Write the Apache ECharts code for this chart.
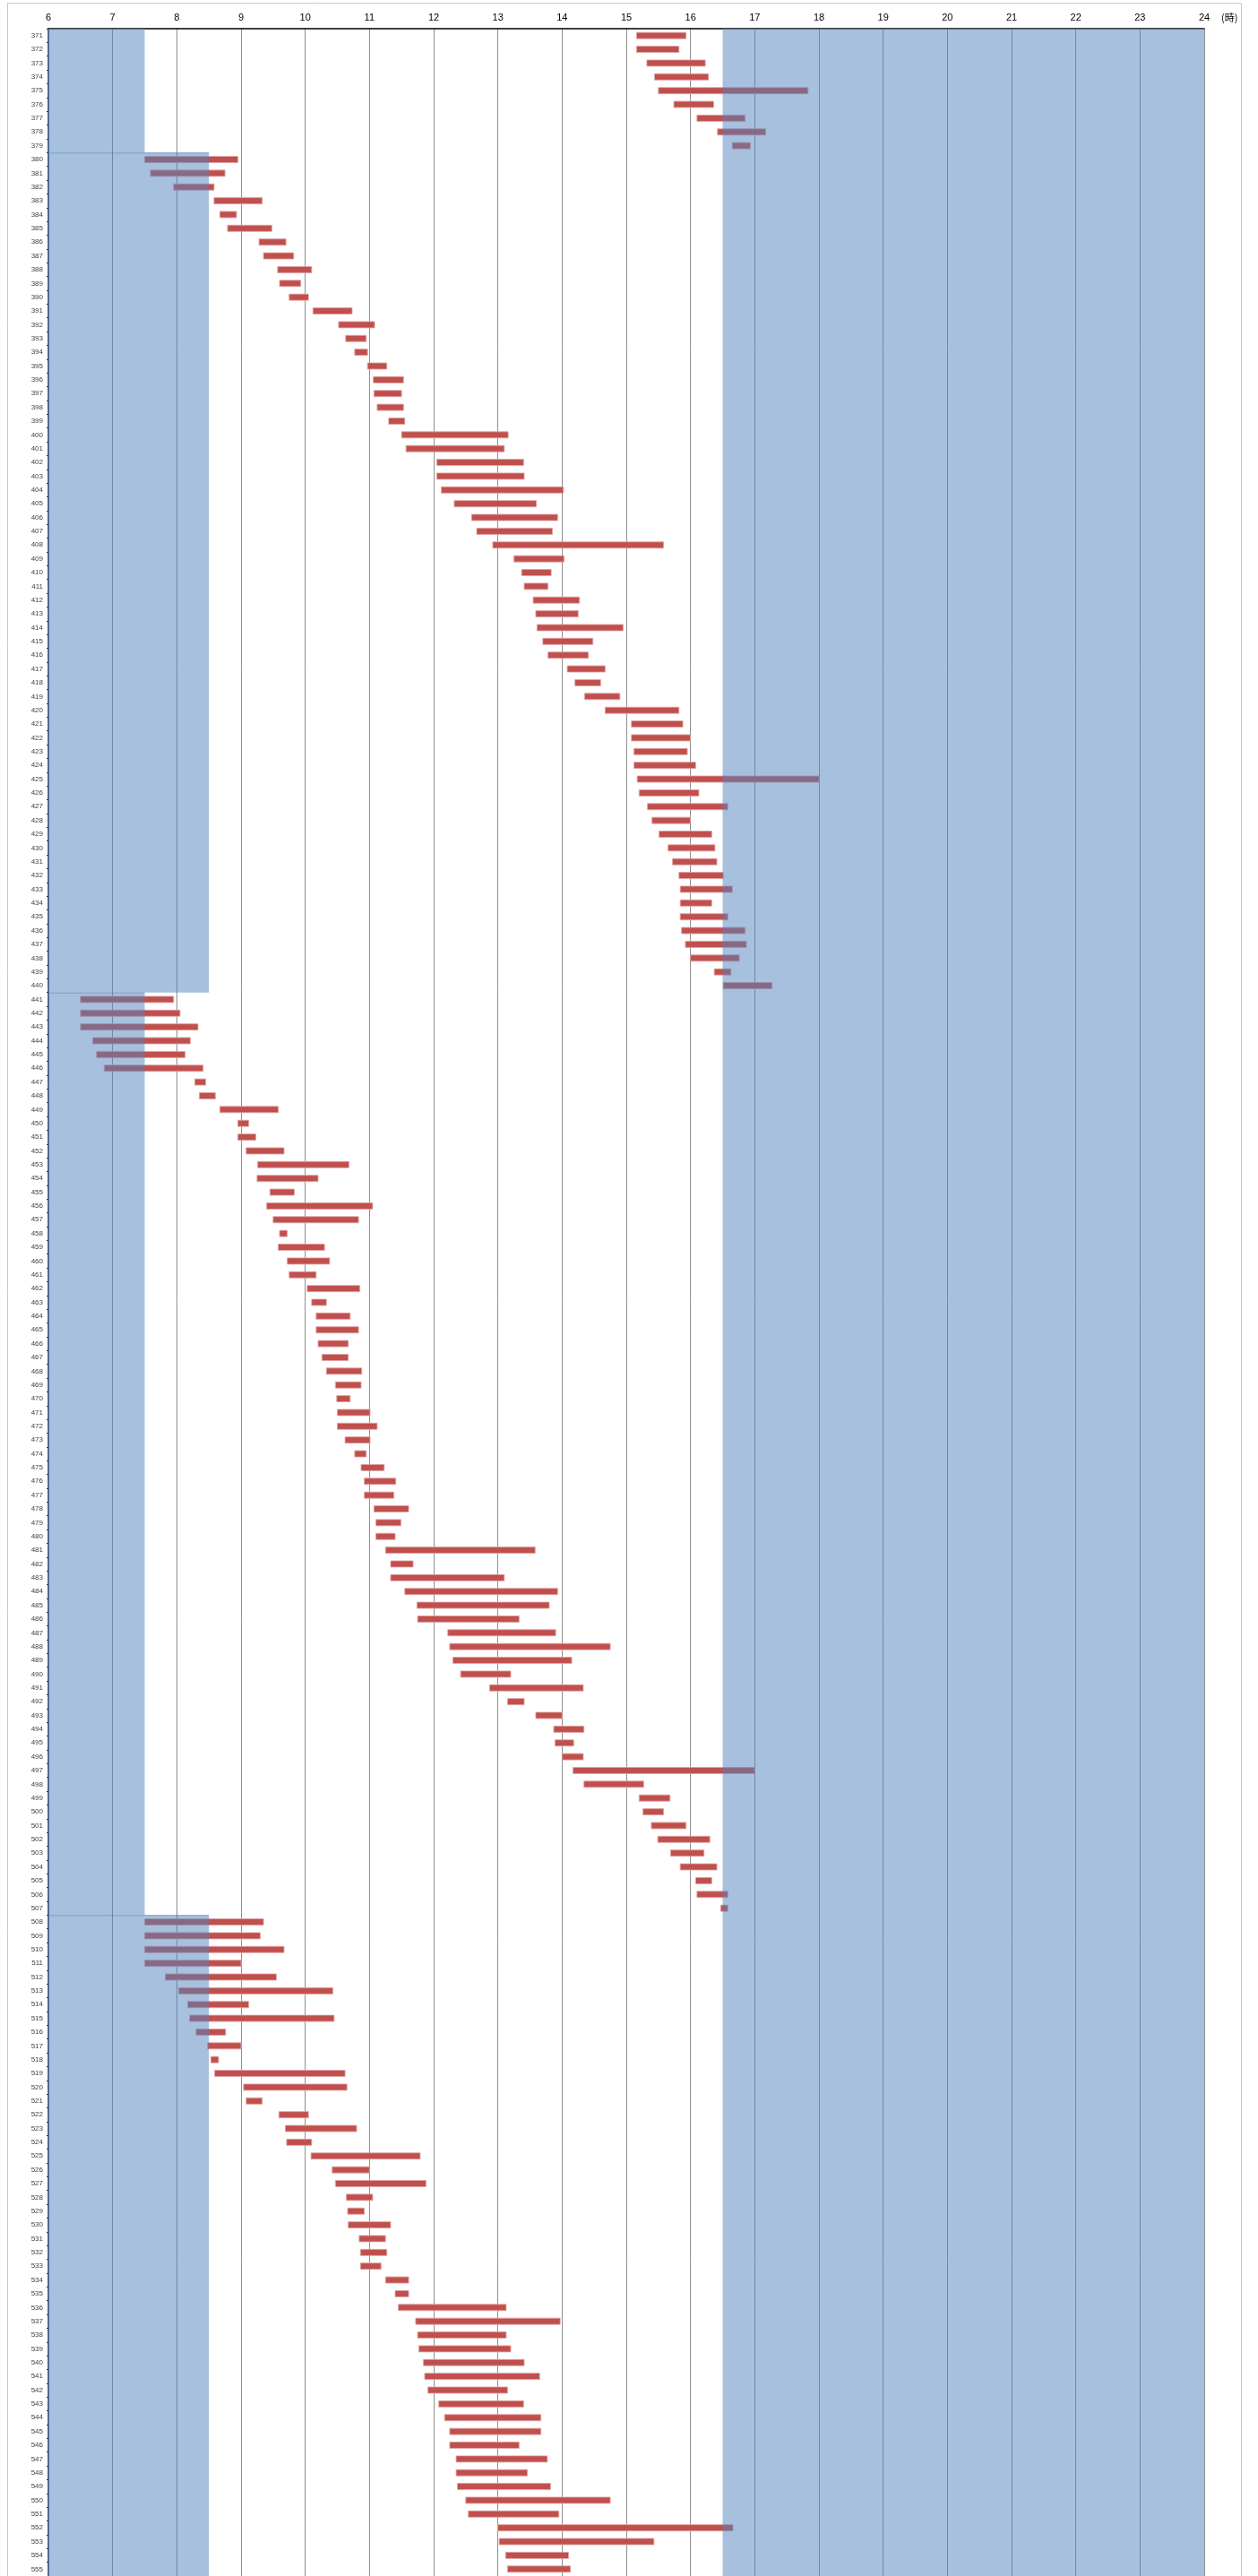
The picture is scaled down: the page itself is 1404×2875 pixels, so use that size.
<!DOCTYPE html>
<html><head><meta charset="utf-8">
<script src="https://cdn.jsdelivr.net/npm/echarts@6/dist/echarts.min.js"></script>
<style>html,body{margin:0;padding:0;background:#fff}#c{width:1404px;height:2875px}</style>
</head><body><div id="c"></div>
<script>
// Row labels (categories)
const rows = ['371','372','373','374','375','376','377','378','379','380','381','382','383','384','385','386','387','388','389','390',
'391','392','393','394','395','396','397','398','399','400','401','402','403','404','405','406','407','408','409','410',
'411','412','413','414','415','416','417','418','419','420','421','422','423','424','425','426','427','428','429','430',
'431','432','433','434','435','436','437','438','439','440','441','442','443','444','445','446','447','448','449','450',
'451','452','453','454','455','456','457','458','459','460','461','462','463','464','465','466','467','468','469','470',
'471','472','473','474','475','476','477','478','479','480','481','482','483','484','485','486','487','488','489','490',
'491','492','493','494','495','496','497','498','499','500','501','502','503','504','505','506','507','508','509','510',
'511','512','513','514','515','516','517','518','519','520','521','522','523','524','525','526','527','528','529','530',
'531','532','533','534','535','536','537','538','539','540','541','542','543','544','545','546','547','548','549','550',
'551','552','553','554','555'];

// Start hour of each bar
const startHour = [
15.16,15.16,15.32,15.44,15.50,15.74,16.10,16.42,16.65,
7.50,7.59,7.95,8.58,8.67,8.79,9.28,9.35,9.57,9.60,9.75,
10.12,10.52,10.63,10.77,10.97,11.06,11.07,11.12,11.30,11.50,
11.57,12.05,12.05,12.12,12.32,12.59,12.67,12.92,13.25,13.37,
13.41,13.55,13.59,13.61,13.70,13.78,14.08,14.20,14.35,14.67,
15.08,15.08,15.12,15.12,15.17,15.20,15.33,15.40,15.51,15.65,
15.72,15.82,15.84,15.84,15.84,15.86,15.92,16.00,16.37,16.51,
6.50,6.50,6.50,6.69,6.75,6.87,8.28,8.35,8.67,8.95,
8.95,9.08,9.26,9.25,9.45,9.40,9.50,9.60,9.58,9.72,
9.75,10.03,10.10,10.17,10.17,10.20,10.26,10.33,10.47,10.49,
10.50,10.50,10.62,10.77,10.87,10.92,10.92,11.07,11.10,11.10,
11.25,11.33,11.33,11.55,11.74,11.75,12.22,12.25,12.30,12.42,
12.87,13.15,13.59,13.87,13.89,14.00,14.17,14.34,15.20,15.26,
15.39,15.49,15.69,15.84,16.08,16.10,16.47,7.50,7.50,7.50,
7.50,7.82,8.03,8.17,8.20,8.30,8.48,8.53,8.59,9.04,
9.08,9.59,9.69,9.71,10.09,10.42,10.47,10.64,10.66,10.67,
10.84,10.86,10.86,11.25,11.40,11.45,11.72,11.75,11.77,11.84,
11.86,11.91,12.08,12.17,12.25,12.25,12.35,12.35,12.37,12.50,
12.54,13.00,13.02,13.12,13.15];

// End hour of each bar
const endHour = [
15.93,15.82,16.23,16.28,17.83,16.36,16.85,17.17,16.93,
8.95,8.75,8.58,9.33,8.93,9.48,9.70,9.82,10.10,9.93,10.05,
10.73,11.08,10.95,10.97,11.27,11.53,11.50,11.53,11.55,13.16,
13.10,13.40,13.41,14.02,13.60,13.93,13.85,15.58,14.03,13.83,
13.78,14.27,14.25,14.95,14.48,14.41,14.67,14.60,14.90,15.82,
15.88,16.00,15.95,16.08,18.00,16.13,16.58,16.00,16.33,16.38,
16.41,16.51,16.65,16.33,16.58,16.85,16.87,16.76,16.63,17.27,
7.95,8.05,8.33,8.21,8.13,8.41,8.45,8.60,9.58,9.12,
9.23,9.67,10.68,10.20,9.83,11.05,10.83,9.72,10.30,10.38,
10.17,10.85,10.33,10.70,10.83,10.67,10.67,10.88,10.87,10.70,
11.01,11.12,11.01,10.95,11.23,11.41,11.38,11.61,11.49,11.40,
13.58,11.68,13.10,13.93,13.80,13.33,13.90,14.75,14.15,13.20,
14.33,13.41,14.00,14.34,14.18,14.33,17.00,15.27,15.68,15.58,
15.93,16.30,16.21,16.41,16.33,16.58,16.58,9.35,9.30,9.67,
9.00,9.55,10.43,9.12,10.45,8.76,9.00,8.65,10.62,10.65,
9.33,10.05,10.80,10.10,11.79,11.00,11.88,11.05,10.92,11.33,
11.25,11.27,11.18,11.61,11.61,13.13,13.97,13.13,13.20,13.41,
13.65,13.15,13.40,13.67,13.67,13.33,13.77,13.46,13.82,14.75,
13.95,16.66,15.43,14.10,14.13];

// Shaded (night) blocks
const shadeFromRow = ['371','380','441','508','371'];
const shadeToRow   = ['379','440','507','555','555'];
const shadeFromHour = [6, 6, 6, 6, 16.5];
const shadeToHour   = [7.5, 8.5, 7.5, 8.5, 24];

// X tick labels
const hourTicks = [6,7,8,9,10,11,12,13,14,15,16,17,18,19,20,21,22,23,24];

const barData = rows.map((r, i) => [startHour[i], endHour[i], i]);
const shadeData = shadeFromRow.map((r, i) => [shadeFromHour[i], shadeToHour[i], rows.indexOf(r), rows.indexOf(shadeToRow[i])]);

const chart = echarts.init(document.getElementById('c'), null, {renderer: 'canvas'});
chart.setOption({
  animation: false,
  backgroundColor: '#fff',
  grid: {left: 54, width: 1290, top: 32, height: 2844, containLabel: false},
  xAxis: {
    type: 'value', position: 'top', min: 6, max: 24, interval: 1,
    axisLine: {show: true, lineStyle: {color: '#000', width: 1.5}},
    axisTick: {show: false},
    axisLabel: {color: '#000', fontSize: 11, margin: 7, fontFamily: 'Liberation Sans Narrow, Liberation Sans, sans-serif',
      formatter: v => hourTicks.indexOf(v) >= 0 ? String(v) : ''},
    splitLine: {show: true, lineStyle: {color: '#8f8f8f', width: 1}}
  },
  yAxis: {
    type: 'category', inverse: true, data: rows,
    axisLine: {show: true, lineStyle: {color: '#243f60', width: 1.5}},
    axisTick: {show: true, length: 2, lineStyle: {color: '#243f60'}},
    axisLabel: {color: '#404040', fontSize: 8, margin: 6, fontFamily: 'Liberation Sans Narrow, Liberation Sans, sans-serif'},
    splitLine: {show: false}
  },
  graphic: [
    {type: 'rect', shape: {x: 8.5, y: 3.5, width: 1377, height: 2885}, style: {fill: 'none', stroke: '#c8c8c8', lineWidth: 1}, silent: true, z: -1},
    {type: 'text', x: 1363, y: 14, style: {text: '(時)', fill: '#000', fontSize: 11, fontFamily: 'Noto Sans CJK JP, sans-serif'}, z: 10}
  ],
  series: [
    {
      type: 'custom', z: 2,
      data: barData,
      encode: {x: [0, 1], y: 2},
      renderItem: (params, api) => {
        const idx = api.value(2);
        const a = api.coord([api.value(0), idx]);
        const b = api.coord([api.value(1), idx]);
        const h = 7;
        return {type: 'rect', shape: {x: a[0], y: a[1] - h / 2, width: b[0] - a[0], height: h},
          style: {fill: '#c0504d', stroke: 'rgba(225,165,164,0.85)', lineWidth: 1}};
      }
    },
    {
      type: 'custom', z: 3,
      data: shadeData,
      encode: {x: [0, 1], y: [2, 3]},
      renderItem: (params, api) => {
        const bh = api.size([0, 1])[1];
        const a = api.coord([api.value(0), api.value(2)]);
        const b = api.coord([api.value(1), api.value(3)]);
        const y0 = a[1] - bh / 2, y1 = b[1] + bh / 2;
        return {type: 'group', children: [
          {type: 'rect', shape: {x: a[0], y: y0, width: b[0] - a[0], height: y1 - y0},
            style: {fill: 'rgba(79,129,189,0.5)'}},
          {type: 'line', shape: {x1: a[0], y1: y0 + 0.5, x2: b[0], y2: y0 + 0.5},
            style: {stroke: 'rgba(79,129,189,0.55)', lineWidth: 1}}
        ]};
      }
    }
  ]
});
</script></body></html>
